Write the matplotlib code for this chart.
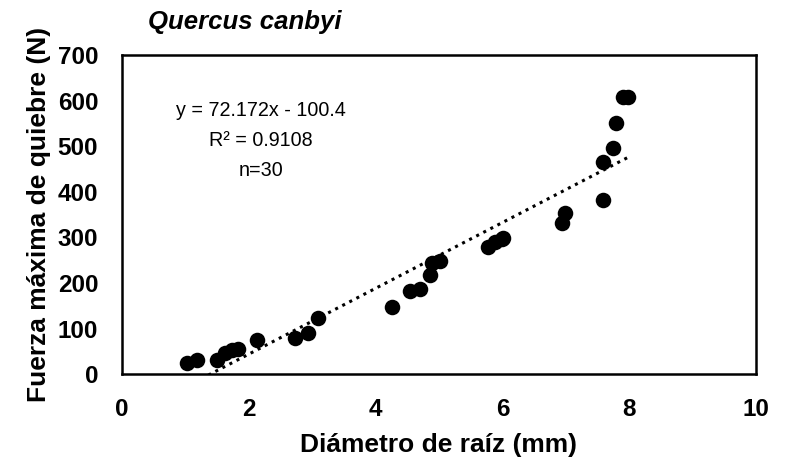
import matplotlib
matplotlib.use("Agg")
import matplotlib.pyplot as plt
import numpy as np

plt.rcParams['font.family'] = ['Liberation Sans', 'DejaVu Sans']

diameter = [1.03, 1.18, 1.50, 1.62, 1.73, 1.83, 2.13, 2.73, 2.94, 3.09,
            4.26, 4.54, 4.70, 4.86, 4.89, 5.02, 5.77, 5.88, 5.99, 6.01,
            6.94, 6.99, 7.59, 7.59, 7.74, 7.79, 7.90, 7.98]
force = [24, 31, 31, 46, 53, 55, 75, 79, 90, 124,
         147, 182, 186, 217, 244, 248, 279, 290, 296, 299,
         331, 353, 382, 465, 496, 551, 608, 608]

slope = 72.172
intercept = -100.4
r2_text = "0.9108"
n_text = "30"

title = "Quercus canbyi"
xlabel = "Diámetro de raíz (mm)"
ylabel = "Fuerza máxima de quiebre (N)"
xticks = [0, 2, 4, 6, 8, 10]
yticks = [0, 100, 200, 300, 400, 500, 600, 700]

fig = plt.figure(figsize=(7.86, 4.62), dpi=100)
ax = fig.add_axes([0.155, 0.19, 0.807, 0.691])

ax.scatter(diameter, force, s=125, color='black', zorder=3, linewidths=0)

xt = np.array([min(diameter), max(diameter)])
ax.plot(xt, slope * xt + intercept, linestyle=(0, (1, 1.6)), color='black',
        linewidth=2.2, zorder=2)

ax.set_xlim(0, 10)
ax.set_ylim(0, 700)
ax.set_xticks(xticks)
ax.set_yticks(yticks)
ax.tick_params(length=0, labelsize=17.5)
ax.tick_params(axis='x', pad=17)
ax.tick_params(axis='y', pad=17)
for lab in ax.get_xticklabels() + ax.get_yticklabels():
    lab.set_fontweight('bold')
for sp in ax.spines.values():
    sp.set_linewidth(1.8)
    sp.set_color('black')

ax.set_xlabel(xlabel, fontsize=19, fontweight='bold', labelpad=9)
ax.set_ylabel(ylabel, fontsize=19, fontweight='bold', labelpad=5)

fig.text(148 / 786, 1 - 22 / 462, title, fontsize=18.5, fontweight='bold',
         style='italic', ha='left', va='center')

lines = [f"y = {slope}x - {abs(intercept)}", f"R² = {r2_text}", f"n={n_text}"]
for i, line in enumerate(lines):
    ax.text(2.19, 579 - 65.8 * i, line, fontsize=14.2, ha='center', va='center')

fig.savefig("out.png", dpi=100)
